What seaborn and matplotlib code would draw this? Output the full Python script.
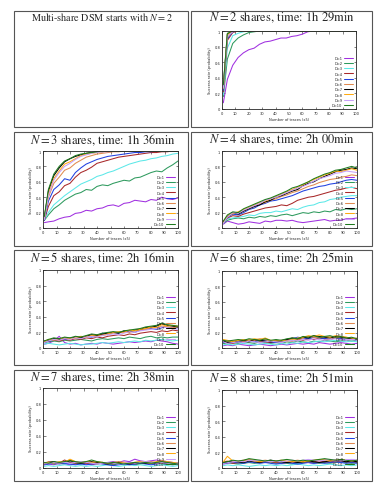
# plot.py - multi-share DSM success rate grid

import pandas as pd
import matplotlib.pyplot as plt
import seaborn as sns
from matplotlib.patches import Rectangle

TRACES = [1, 4, 8, 12, 16, 20, 24, 28, 32, 36, 40, 44, 48, 52, 56, 60, 64, 68, 72, 76, 80, 84, 88, 92, 96, 100]
D_LABELS = ["D=1", "D=2", "D=3", "D=4", "D=5", "D=6", "D=7", "D=8", "D=9", "D=10"]
D_COLORS = ["#a030e0", "#2e9a5e", "#5ce8e8", "#a8282a", "#2040e0",
            "#e08a50", "#000000", "#ffaa10", "#c8a0f8", "#1e7a1e"]

# success rate per D, one list per D (N = 2 shares)
N2_RATES = [
    [0.08, 0.38, 0.56, 0.66, 0.72, 0.76, 0.78, 0.83, 0.86, 0.87, 0.89, 0.91, 0.91, 0.93, 0.94, 0.96, 0.99, 1.0, 1.0, 1.0, 1.0, 1.0, 1.0, 1.0, 1.0, 1.0],
    [0.16, 0.64, 0.84, 0.91, 0.95, 0.98, 0.99, 1.0, 1.0, 1.0, 1.0, 1.0, 1.0, 1.0, 1.0, 1.0, 1.0, 1.0, 1.0, 1.0, 1.0, 1.0, 1.0, 1.0, 1.0, 1.0],
    [0.18, 0.78, 0.94, 0.97, 0.99, 1.0, 1.0, 1.0, 1.0, 1.0, 1.0, 1.0, 1.0, 1.0, 1.0, 1.0, 1.0, 1.0, 1.0, 1.0, 1.0, 1.0, 1.0, 1.0, 1.0, 1.0],
    [0.22, 0.88, 0.98, 1.0, 1.0, 1.0, 1.0, 1.0, 1.0, 1.0, 1.0, 1.0, 1.0, 1.0, 1.0, 1.0, 1.0, 1.0, 1.0, 1.0, 1.0, 1.0, 1.0, 1.0, 1.0, 1.0],
    [0.24, 0.90, 0.99, 1.0, 1.0, 1.0, 1.0, 1.0, 1.0, 1.0, 1.0, 1.0, 1.0, 1.0, 1.0, 1.0, 1.0, 1.0, 1.0, 1.0, 1.0, 1.0, 1.0, 1.0, 1.0, 1.0],
    [0.26, 0.92, 1.0, 1.0, 1.0, 1.0, 1.0, 1.0, 1.0, 1.0, 1.0, 1.0, 1.0, 1.0, 1.0, 1.0, 1.0, 1.0, 1.0, 1.0, 1.0, 1.0, 1.0, 1.0, 1.0, 1.0],
    [0.30, 0.96, 1.0, 1.0, 1.0, 1.0, 1.0, 1.0, 1.0, 1.0, 1.0, 1.0, 1.0, 1.0, 1.0, 1.0, 1.0, 1.0, 1.0, 1.0, 1.0, 1.0, 1.0, 1.0, 1.0, 1.0],
    [0.28, 0.95, 1.0, 1.0, 1.0, 1.0, 1.0, 1.0, 1.0, 1.0, 1.0, 1.0, 1.0, 1.0, 1.0, 1.0, 1.0, 1.0, 1.0, 1.0, 1.0, 1.0, 1.0, 1.0, 1.0, 1.0],
    [0.27, 0.93, 0.99, 1.0, 1.0, 1.0, 1.0, 1.0, 1.0, 1.0, 1.0, 1.0, 1.0, 1.0, 1.0, 1.0, 1.0, 1.0, 1.0, 1.0, 1.0, 1.0, 1.0, 1.0, 1.0, 1.0],
    [0.31, 0.97, 1.0, 1.0, 1.0, 1.0, 1.0, 1.0, 1.0, 1.0, 1.0, 1.0, 1.0, 1.0, 1.0, 1.0, 1.0, 1.0, 1.0, 1.0, 1.0, 1.0, 1.0, 1.0, 1.0, 1.0],
]

N3_RATES = [
    [0.07, 0.08, 0.09, 0.12, 0.14, 0.15, 0.19, 0.20, 0.23, 0.22, 0.25, 0.26, 0.29, 0.30, 0.28, 0.32, 0.33, 0.36, 0.35, 0.34, 0.37, 0.36, 0.40, 0.38, 0.37, 0.39],
    [0.10, 0.17, 0.25, 0.30, 0.36, 0.40, 0.44, 0.46, 0.50, 0.49, 0.54, 0.56, 0.55, 0.58, 0.60, 0.62, 0.61, 0.65, 0.66, 0.69, 0.72, 0.74, 0.73, 0.78, 0.82, 0.87],
    [0.10, 0.20, 0.30, 0.36, 0.42, 0.47, 0.52, 0.57, 0.60, 0.63, 0.67, 0.69, 0.72, 0.74, 0.77, 0.80, 0.83, 0.85, 0.87, 0.88, 0.90, 0.91, 0.93, 0.94, 0.96, 0.97],
    [0.10, 0.28, 0.42, 0.47, 0.55, 0.58, 0.66, 0.72, 0.75, 0.79, 0.84, 0.86, 0.88, 0.90, 0.92, 0.93, 0.94, 0.95, 0.96, 0.97, 0.98, 0.98, 0.99, 0.99, 1.0, 1.0],
    [0.10, 0.35, 0.50, 0.56, 0.64, 0.62, 0.72, 0.78, 0.83, 0.86, 0.89, 0.91, 0.93, 0.94, 0.95, 0.96, 0.97, 0.98, 0.98, 0.99, 0.99, 1.0, 1.0, 1.0, 1.0, 1.0],
    [0.12, 0.40, 0.58, 0.66, 0.75, 0.78, 0.84, 0.88, 0.92, 0.94, 0.96, 0.97, 0.98, 0.99, 0.99, 1.0, 1.0, 1.0, 1.0, 1.0, 1.0, 1.0, 1.0, 1.0, 1.0, 1.0],
    [0.14, 0.48, 0.68, 0.78, 0.86, 0.90, 0.93, 0.95, 0.97, 0.98, 0.99, 0.99, 1.0, 1.0, 1.0, 1.0, 1.0, 1.0, 1.0, 1.0, 1.0, 1.0, 1.0, 1.0, 1.0, 1.0],
    [0.12, 0.44, 0.64, 0.74, 0.83, 0.86, 0.90, 0.94, 0.96, 0.97, 0.98, 0.99, 1.0, 1.0, 1.0, 1.0, 1.0, 1.0, 1.0, 1.0, 1.0, 1.0, 1.0, 1.0, 1.0, 1.0],
    [0.11, 0.42, 0.62, 0.72, 0.80, 0.84, 0.89, 0.93, 0.95, 0.97, 0.98, 0.99, 0.99, 1.0, 1.0, 1.0, 1.0, 1.0, 1.0, 1.0, 1.0, 1.0, 1.0, 1.0, 1.0, 1.0],
    [0.15, 0.50, 0.70, 0.80, 0.87, 0.90, 0.94, 0.96, 0.97, 0.98, 0.99, 1.0, 1.0, 1.0, 1.0, 1.0, 1.0, 1.0, 1.0, 1.0, 1.0, 1.0, 1.0, 1.0, 1.0, 1.0],
]

N4_RATES = [
    [0.05, 0.09, 0.07, 0.05, 0.06, 0.08, 0.07, 0.06, 0.09, 0.08, 0.10, 0.10, 0.09, 0.10, 0.08, 0.07, 0.08, 0.09, 0.10, 0.11, 0.09, 0.10, 0.10, 0.12, 0.12, 0.13],
    [0.06, 0.10, 0.12, 0.13, 0.12, 0.14, 0.13, 0.15, 0.14, 0.16, 0.15, 0.17, 0.18, 0.16, 0.18, 0.20, 0.19, 0.21, 0.20, 0.22, 0.21, 0.24, 0.23, 0.25, 0.24, 0.25],
    [0.07, 0.12, 0.13, 0.14, 0.15, 0.17, 0.16, 0.19, 0.20, 0.20, 0.22, 0.21, 0.23, 0.25, 0.24, 0.27, 0.29, 0.30, 0.33, 0.34, 0.37, 0.38, 0.40, 0.41, 0.42, 0.42],
    [0.07, 0.13, 0.16, 0.15, 0.18, 0.20, 0.22, 0.24, 0.26, 0.27, 0.28, 0.30, 0.29, 0.32, 0.36, 0.38, 0.40, 0.41, 0.43, 0.45, 0.47, 0.49, 0.50, 0.52, 0.53, 0.51],
    [0.06, 0.14, 0.18, 0.17, 0.20, 0.24, 0.26, 0.30, 0.32, 0.35, 0.36, 0.38, 0.40, 0.42, 0.45, 0.48, 0.50, 0.52, 0.54, 0.55, 0.57, 0.58, 0.60, 0.62, 0.63, 0.62],
    [0.08, 0.15, 0.19, 0.20, 0.22, 0.25, 0.28, 0.31, 0.33, 0.36, 0.38, 0.41, 0.43, 0.46, 0.48, 0.51, 0.54, 0.56, 0.59, 0.61, 0.63, 0.64, 0.66, 0.67, 0.69, 0.68],
    [0.08, 0.15, 0.20, 0.18, 0.22, 0.25, 0.28, 0.30, 0.34, 0.36, 0.40, 0.42, 0.45, 0.48, 0.50, 0.55, 0.58, 0.60, 0.64, 0.67, 0.70, 0.73, 0.75, 0.76, 0.78, 0.77],
    [0.07, 0.16, 0.19, 0.21, 0.24, 0.27, 0.30, 0.33, 0.35, 0.38, 0.41, 0.44, 0.47, 0.50, 0.53, 0.56, 0.60, 0.63, 0.66, 0.69, 0.71, 0.74, 0.73, 0.75, 0.77, 0.75],
    [0.06, 0.14, 0.20, 0.19, 0.23, 0.26, 0.29, 0.32, 0.36, 0.38, 0.40, 0.43, 0.46, 0.49, 0.52, 0.54, 0.57, 0.61, 0.64, 0.66, 0.68, 0.71, 0.72, 0.74, 0.73, 0.72],
    [0.09, 0.17, 0.21, 0.20, 0.25, 0.28, 0.31, 0.34, 0.37, 0.39, 0.42, 0.45, 0.48, 0.52, 0.54, 0.57, 0.60, 0.64, 0.67, 0.70, 0.72, 0.75, 0.76, 0.78, 0.80, 0.78],
]

N5_RATES = [
    [0.05, 0.06, 0.09, 0.15, 0.07, 0.05, 0.06, 0.04, 0.05, 0.06, 0.05, 0.07, 0.06, 0.05, 0.06, 0.07, 0.08, 0.07, 0.08, 0.09, 0.08, 0.10, 0.09, 0.08, 0.06, 0.05],
    [0.07, 0.08, 0.09, 0.08, 0.10, 0.09, 0.10, 0.11, 0.10, 0.09, 0.11, 0.12, 0.11, 0.12, 0.13, 0.12, 0.14, 0.13, 0.12, 0.14, 0.15, 0.13, 0.14, 0.13, 0.14, 0.14],
    [0.05, 0.06, 0.05, 0.04, 0.05, 0.06, 0.05, 0.04, 0.05, 0.05, 0.06, 0.07, 0.06, 0.07, 0.08, 0.07, 0.08, 0.09, 0.08, 0.10, 0.09, 0.10, 0.11, 0.10, 0.09, 0.10],
    [0.08, 0.09, 0.10, 0.09, 0.11, 0.10, 0.12, 0.11, 0.13, 0.12, 0.14, 0.13, 0.15, 0.16, 0.17, 0.16, 0.18, 0.17, 0.19, 0.20, 0.21, 0.20, 0.22, 0.21, 0.23, 0.22],
    [0.07, 0.09, 0.10, 0.12, 0.11, 0.13, 0.12, 0.14, 0.15, 0.14, 0.16, 0.19, 0.17, 0.20, 0.19, 0.21, 0.22, 0.20, 0.23, 0.24, 0.25, 0.24, 0.26, 0.27, 0.25, 0.26],
    [0.08, 0.10, 0.11, 0.10, 0.12, 0.13, 0.12, 0.14, 0.15, 0.16, 0.15, 0.17, 0.18, 0.19, 0.20, 0.21, 0.20, 0.22, 0.23, 0.24, 0.26, 0.25, 0.28, 0.27, 0.26, 0.27],
    [0.09, 0.10, 0.12, 0.11, 0.13, 0.12, 0.14, 0.13, 0.15, 0.17, 0.16, 0.18, 0.19, 0.20, 0.19, 0.22, 0.21, 0.23, 0.24, 0.26, 0.27, 0.28, 0.31, 0.29, 0.28, 0.27],
    [0.08, 0.11, 0.10, 0.12, 0.13, 0.12, 0.13, 0.15, 0.14, 0.16, 0.17, 0.16, 0.18, 0.20, 0.21, 0.20, 0.23, 0.22, 0.24, 0.25, 0.27, 0.26, 0.30, 0.28, 0.29, 0.28],
    [0.07, 0.09, 0.11, 0.10, 0.12, 0.11, 0.13, 0.12, 0.14, 0.15, 0.14, 0.16, 0.17, 0.18, 0.17, 0.19, 0.21, 0.20, 0.22, 0.23, 0.24, 0.25, 0.27, 0.26, 0.25, 0.24],
    [0.09, 0.11, 0.13, 0.12, 0.14, 0.13, 0.15, 0.14, 0.16, 0.18, 0.17, 0.19, 0.20, 0.21, 0.20, 0.22, 0.23, 0.24, 0.25, 0.27, 0.28, 0.29, 0.32, 0.30, 0.29, 0.28],
]

N6_RATES = [
    [0.03, 0.04, 0.03, 0.05, 0.04, 0.03, 0.04, 0.05, 0.04, 0.03, 0.04, 0.05, 0.04, 0.05, 0.06, 0.05, 0.06, 0.05, 0.07, 0.06, 0.05, 0.06, 0.07, 0.06, 0.05, 0.06],
    [0.06, 0.05, 0.07, 0.06, 0.08, 0.07, 0.06, 0.08, 0.07, 0.06, 0.07, 0.06, 0.08, 0.07, 0.09, 0.08, 0.07, 0.09, 0.08, 0.10, 0.09, 0.08, 0.09, 0.10, 0.09, 0.10],
    [0.04, 0.05, 0.04, 0.05, 0.06, 0.05, 0.04, 0.05, 0.06, 0.05, 0.04, 0.06, 0.05, 0.07, 0.06, 0.08, 0.07, 0.08, 0.09, 0.08, 0.09, 0.10, 0.09, 0.08, 0.09, 0.08],
    [0.08, 0.07, 0.06, 0.08, 0.09, 0.08, 0.10, 0.09, 0.08, 0.07, 0.08, 0.09, 0.10, 0.09, 0.11, 0.10, 0.12, 0.11, 0.13, 0.12, 0.11, 0.13, 0.12, 0.11, 0.12, 0.11],
    [0.07, 0.09, 0.07, 0.08, 0.10, 0.09, 0.08, 0.10, 0.09, 0.08, 0.07, 0.09, 0.10, 0.12, 0.14, 0.13, 0.12, 0.14, 0.13, 0.12, 0.14, 0.13, 0.12, 0.11, 0.12, 0.10],
    [0.10, 0.08, 0.09, 0.10, 0.09, 0.11, 0.10, 0.12, 0.11, 0.09, 0.10, 0.09, 0.11, 0.12, 0.11, 0.13, 0.15, 0.14, 0.13, 0.15, 0.14, 0.13, 0.15, 0.14, 0.12, 0.13],
    [0.09, 0.07, 0.08, 0.09, 0.10, 0.09, 0.11, 0.10, 0.09, 0.08, 0.09, 0.10, 0.11, 0.13, 0.12, 0.14, 0.13, 0.16, 0.15, 0.14, 0.13, 0.15, 0.14, 0.13, 0.12, 0.11],
    [0.11, 0.10, 0.08, 0.10, 0.11, 0.10, 0.12, 0.11, 0.13, 0.10, 0.09, 0.10, 0.09, 0.11, 0.13, 0.14, 0.16, 0.15, 0.17, 0.15, 0.14, 0.16, 0.15, 0.14, 0.13, 0.12],
    [0.08, 0.06, 0.07, 0.08, 0.07, 0.09, 0.08, 0.07, 0.08, 0.09, 0.08, 0.07, 0.09, 0.10, 0.09, 0.11, 0.10, 0.12, 0.11, 0.10, 0.11, 0.12, 0.11, 0.10, 0.11, 0.10],
    [0.10, 0.09, 0.10, 0.11, 0.10, 0.12, 0.11, 0.10, 0.12, 0.10, 0.11, 0.10, 0.12, 0.13, 0.12, 0.15, 0.14, 0.16, 0.14, 0.15, 0.16, 0.14, 0.15, 0.13, 0.14, 0.12],
]

N7_RATES = [
    [0.04, 0.05, 0.04, 0.06, 0.05, 0.04, 0.05, 0.06, 0.05, 0.04, 0.05, 0.06, 0.07, 0.08, 0.07, 0.09, 0.08, 0.11, 0.09, 0.08, 0.09, 0.10, 0.09, 0.08, 0.07, 0.06],
    [0.06, 0.07, 0.05, 0.06, 0.05, 0.07, 0.06, 0.05, 0.07, 0.06, 0.05, 0.06, 0.05, 0.04, 0.05, 0.06, 0.05, 0.04, 0.05, 0.06, 0.05, 0.06, 0.05, 0.04, 0.05, 0.04],
    [0.02, 0.03, 0.02, 0.03, 0.04, 0.03, 0.02, 0.03, 0.02, 0.03, 0.02, 0.03, 0.04, 0.03, 0.02, 0.03, 0.04, 0.03, 0.04, 0.03, 0.02, 0.03, 0.04, 0.03, 0.02, 0.03],
    [0.05, 0.06, 0.07, 0.06, 0.10, 0.07, 0.06, 0.07, 0.06, 0.05, 0.06, 0.07, 0.06, 0.05, 0.06, 0.07, 0.06, 0.05, 0.06, 0.07, 0.06, 0.07, 0.08, 0.07, 0.06, 0.05],
    [0.04, 0.05, 0.06, 0.05, 0.06, 0.05, 0.04, 0.05, 0.04, 0.05, 0.06, 0.05, 0.04, 0.03, 0.04, 0.05, 0.04, 0.05, 0.06, 0.05, 0.04, 0.05, 0.06, 0.05, 0.04, 0.05],
    [0.06, 0.08, 0.07, 0.06, 0.08, 0.10, 0.08, 0.07, 0.08, 0.07, 0.06, 0.07, 0.06, 0.07, 0.08, 0.07, 0.06, 0.07, 0.08, 0.07, 0.08, 0.07, 0.06, 0.07, 0.06, 0.05],
    [0.05, 0.07, 0.08, 0.06, 0.07, 0.09, 0.07, 0.06, 0.07, 0.08, 0.07, 0.06, 0.05, 0.06, 0.07, 0.06, 0.05, 0.06, 0.07, 0.06, 0.07, 0.06, 0.07, 0.06, 0.05, 0.06],
    [0.06, 0.07, 0.06, 0.08, 0.07, 0.11, 0.08, 0.07, 0.08, 0.07, 0.08, 0.07, 0.06, 0.07, 0.06, 0.07, 0.06, 0.07, 0.08, 0.07, 0.06, 0.08, 0.09, 0.08, 0.07, 0.06],
    [0.05, 0.06, 0.07, 0.06, 0.07, 0.06, 0.07, 0.08, 0.07, 0.06, 0.05, 0.06, 0.07, 0.06, 0.05, 0.06, 0.07, 0.06, 0.07, 0.08, 0.07, 0.06, 0.07, 0.06, 0.05, 0.06],
    [0.07, 0.06, 0.08, 0.07, 0.08, 0.09, 0.08, 0.07, 0.08, 0.10, 0.08, 0.07, 0.06, 0.07, 0.06, 0.05, 0.06, 0.07, 0.06, 0.07, 0.06, 0.07, 0.08, 0.07, 0.06, 0.05],
]

N8_RATES = [
    [0.05, 0.06, 0.07, 0.06, 0.08, 0.07, 0.09, 0.08, 0.07, 0.08, 0.07, 0.06, 0.07, 0.08, 0.07, 0.08, 0.07, 0.06, 0.07, 0.08, 0.09, 0.08, 0.07, 0.08, 0.09, 0.08],
    [0.06, 0.07, 0.06, 0.05, 0.06, 0.07, 0.06, 0.07, 0.08, 0.07, 0.06, 0.07, 0.06, 0.05, 0.06, 0.07, 0.08, 0.07, 0.06, 0.07, 0.06, 0.07, 0.08, 0.07, 0.06, 0.07],
    [0.03, 0.04, 0.03, 0.04, 0.03, 0.02, 0.03, 0.04, 0.03, 0.04, 0.03, 0.04, 0.03, 0.04, 0.05, 0.04, 0.03, 0.04, 0.03, 0.04, 0.05, 0.04, 0.03, 0.04, 0.03, 0.04],
    [0.07, 0.08, 0.06, 0.07, 0.09, 0.10, 0.09, 0.08, 0.07, 0.08, 0.07, 0.06, 0.07, 0.08, 0.09, 0.08, 0.07, 0.08, 0.09, 0.08, 0.07, 0.08, 0.09, 0.08, 0.07, 0.08],
    [0.06, 0.07, 0.08, 0.07, 0.06, 0.08, 0.07, 0.06, 0.07, 0.06, 0.05, 0.06, 0.07, 0.06, 0.05, 0.06, 0.07, 0.06, 0.07, 0.06, 0.07, 0.08, 0.07, 0.06, 0.07, 0.06],
    [0.08, 0.09, 0.08, 0.09, 0.10, 0.11, 0.10, 0.09, 0.10, 0.09, 0.08, 0.09, 0.08, 0.09, 0.10, 0.09, 0.08, 0.09, 0.10, 0.11, 0.10, 0.09, 0.10, 0.09, 0.10, 0.09],
    [0.07, 0.08, 0.09, 0.08, 0.07, 0.09, 0.08, 0.07, 0.09, 0.10, 0.09, 0.08, 0.07, 0.08, 0.07, 0.08, 0.09, 0.08, 0.07, 0.08, 0.09, 0.10, 0.09, 0.08, 0.09, 0.08],
    [0.08, 0.15, 0.09, 0.08, 0.09, 0.10, 0.09, 0.08, 0.09, 0.08, 0.09, 0.10, 0.09, 0.08, 0.09, 0.08, 0.09, 0.10, 0.11, 0.10, 0.09, 0.10, 0.11, 0.10, 0.09, 0.10],
    [0.06, 0.07, 0.08, 0.09, 0.08, 0.10, 0.09, 0.10, 0.09, 0.08, 0.09, 0.08, 0.09, 0.10, 0.09, 0.10, 0.11, 0.10, 0.09, 0.10, 0.11, 0.10, 0.09, 0.10, 0.11, 0.10],
    [0.07, 0.08, 0.10, 0.09, 0.10, 0.12, 0.11, 0.10, 0.09, 0.10, 0.09, 0.10, 0.11, 0.10, 0.09, 0.10, 0.09, 0.10, 0.11, 0.12, 0.11, 0.10, 0.11, 0.10, 0.09, 0.10],
]

PANEL_TITLES = {
    2: r"$N = 2$ shares, time: 1h 29min",
    3: r"$N = 3$ shares, time: 1h 36min",
    4: r"$N = 4$ shares, time: 2h 00min",
    5: r"$N = 5$ shares, time: 2h 16min",
    6: r"$N = 6$ shares, time: 2h 25min",
    7: r"$N = 7$ shares, time: 2h 38min",
    8: r"$N = 8$ shares, time: 2h 51min",
}
PANEL_RATES = {2: N2_RATES, 3: N3_RATES, 4: N4_RATES, 5: N5_RATES,
               6: N6_RATES, 7: N7_RATES, 8: N8_RATES}

W, H = 376, 489

# pixel layout (left, top, right, bottom)
AXES_PX = {
    2: (222, 32, 356, 110),
    3: (43, 152, 178, 229),
    4: (222, 152, 357, 229),
    5: (43, 271, 178, 349),
    6: (222, 272, 357, 349),
    7: (43, 389, 178, 469),
    8: (222, 391, 357, 469),
}
TITLE_PX = {2: (282, 18), 3: (103, 140), 4: (282, 140), 5: (103, 258),
            6: (282, 258), 7: (103, 378), 8: (282, 378)}
ROWS_PX = [(12, 128), (133, 247), (251, 366), (371, 482)]


def panel_frame(series):
    rows = []
    for label, values in zip(D_LABELS, series, strict=True):
        for t, v in zip(TRACES, values, strict=True):
            rows.append((t, v, label))
    return pd.DataFrame(rows, columns=["trace", "rate", "D"])


sns.set_style("ticks", {"xtick.direction": "in", "ytick.direction": "in"})
plt.rcParams["mathtext.fontset"] = "stix"

fig = plt.figure(figsize=(W / 100, H / 100), dpi=100)

# cell frames
for top, bottom in ROWS_PX:
    for left, right in [(14, 188), (191, 372)]:
        fig.add_artist(Rectangle((left / W, 1 - bottom / H), (right - left) / W, (bottom - top) / H,
                                 transform=fig.transFigure, fill=False,
                                 edgecolor="#555555", linewidth=0.8))

fig.text(102 / W, 1 - 17 / H, r"Multi-share DSM starts with $N = 2$",
         ha="center", va="center", fontsize=7.3, family="STIXGeneral")

palette = dict(zip(D_LABELS, D_COLORS))

for n, rates in PANEL_RATES.items():
    l, t, r, b = AXES_PX[n]
    ax = fig.add_axes([l / W, 1 - b / H, (r - l) / W, (b - t) / H])
    df = panel_frame(rates)
    sns.lineplot(data=df, x="trace", y="rate", hue="D", hue_order=D_LABELS,
                 palette=palette, linewidth=0.75, estimator=None, ax=ax)
    ax.set_xlim(0, 100)
    ax.set_ylim(0, 1)
    ax.set_xticks(range(0, 101, 10))
    ax.set_yticks([0, 0.2, 0.4, 0.6, 0.8, 1])
    ax.set_yticklabels(["0", "0.2", "0.4", "0.6", "0.8", "1"])
    ax.tick_params(labelsize=2.6, length=1.8, width=0.4, pad=1.2,
                   top=True, right=True)
    for s in ax.spines.values():
        s.set_linewidth(0.6)
    ax.set_xlabel("Number of traces (x5)", fontsize=2.6, labelpad=1.5)
    ax.set_ylabel("Success rate (probability)", fontsize=2.6, labelpad=2)

    handles, labels = ax.get_legend_handles_labels()
    ax.legend(handles, labels, loc="lower right", bbox_to_anchor=(1.0, -0.01),
              frameon=False, fontsize=2.6, markerfirst=False, handlelength=2.6,
              handletextpad=0.5, labelspacing=0.35, borderaxespad=0.3)

    cx, cy = TITLE_PX[n]
    fig.text(cx / W, 1 - cy / H, PANEL_TITLES[n], ha="center", va="center",
             fontsize=9, family="STIXGeneral")

fig.savefig("out.png", dpi=100)
plt.close(fig)
